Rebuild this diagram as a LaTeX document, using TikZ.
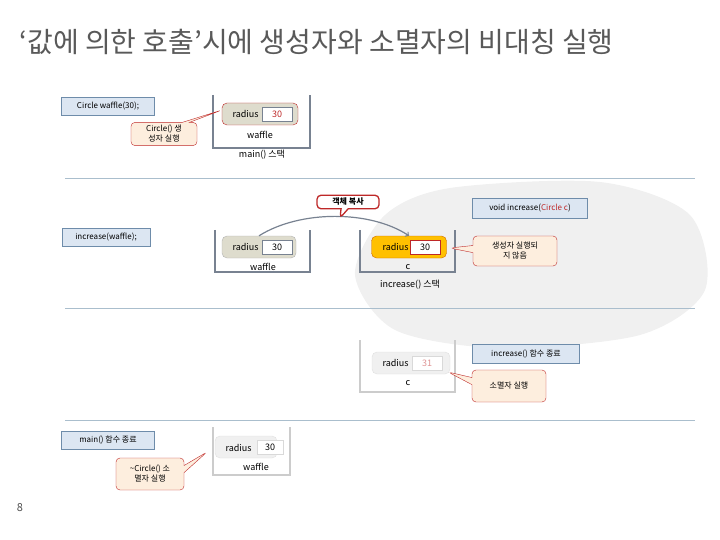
\documentclass[tikz,border=0pt]{standalone}
\usepackage{fontspec}
\setmainfont{Noto Sans CJK KR}
\usetikzlibrary{shapes.callouts,positioning}
\definecolor{codefill}{RGB}{220,230,242}
\definecolor{codeline}{RGB}{110,140,170}
\definecolor{objfill}{RGB}{222,220,205}
\definecolor{noteline}{RGB}{190,40,40}
\definecolor{notefill}{RGB}{253,238,222}
\definecolor{stackline}{RGB}{120,130,145}
\definecolor{sepline}{RGB}{170,190,205}
\definecolor{amber}{RGB}{255,192,0}
\tikzset{
  code/.style={draw=codeline,fill=codefill,minimum height=18pt,inner xsep=5pt,font=\fontsize{8}{10}\selectfont},
  obj/.style={draw=noteline,fill=objfill,rounded corners=5pt,minimum width=76pt,minimum height=22pt},
  val/.style={draw=stackline,fill=white,minimum width=30pt,minimum height=14pt,inner sep=1pt,font=\fontsize{9}{10}\selectfont},
  note/.style={rectangle callout,draw=noteline,fill=notefill,rounded corners=4pt,align=center,font=\fontsize{8}{10}\selectfont,inner sep=3pt},
  lbl/.style={font=\fontsize{9}{10}\selectfont},
}
\begin{document}
\begin{tikzpicture}[x=1pt,y=-1pt]
  \useasboundingbox (0,0) rectangle (720,540);
  % background blob
  \fill[black!6] plot[smooth cycle] coordinates {(450,188) (600,182) (690,215) (705,290) (640,335) (500,348) (395,330) (355,275) (385,215)};
  \node[anchor=west,text=black!65,font=\fontsize{28}{30}\selectfont] (title) at (16,42) {‘값에 의한 호출’시에 생성자와 소멸자의 비대칭 실행};
  % separators
  \foreach \y in {178,308,420}
    \draw[sepline] (65,\y) -- (695,\y);

  % main() stack
  \node[code,minimum width=93pt] (cw) at (108,106) {Circle waffle(30);};
  \draw[stackline,line width=1.2pt] (213,95) |- (310,148) -- (310,95);
  \node[obj] (o1) at (260,114) {};
  \node[lbl,anchor=west] at (229,114) {radius};
  \node[val,text=noteline] (v1) at (277,114) {30};
  \node[lbl] (w1) at (260,135) {waffle};
  \node[lbl] (s1) at (262,155) {main() 스택};
  \node[note,minimum width=66pt,callout absolute pointer={(222,110)}] (n1) at (164,134) {Circle() 생\\성자 실행};

  % increase() call
  \node[code,minimum width=88pt] (iw) at (106,237) {increase(waffle);};
  \draw[stackline,line width=1.2pt] (215,230) |- (310,272) -- (310,230);
  \node[obj,draw=black!30,minimum width=74pt] (o2) at (259,247) {};
  \node[lbl,anchor=west] at (229,247) {radius};
  \node[val] (v2) at (277,247) {30};
  \node[lbl] (w2) at (263,267) {waffle};
  \draw[stackline,line width=1.2pt] (360,230) |- (455,272) -- (455,230);
  \node[obj,draw=orange!80!black,fill=amber,minimum width=75pt] (o3) at (409,247) {};
  \node[lbl,anchor=west] at (379,247) {radius};
  \node[val,draw=noteline] (v3) at (425,247) {30};
  \node[lbl] (c3) at (408,267) {c};
  \node[lbl] (s3) at (410,285) {increase() 스택};
  \draw[stackline,line width=1.2pt,->] (o2.north) .. controls (300,210) and (370,210) .. (o3.north);
  \node[note,draw=noteline,line width=1.3pt,fill=white,minimum width=62pt,callout absolute pointer={(340,218)},font=\fontsize{8}{10}\selectfont\bfseries] (n2) at (348,202) {객체 복사};
  \node[code,minimum width=115pt,minimum height=20pt] (vi) at (530,208) {void increase(\textcolor{noteline}{Circle c})};
  \node[note,minimum width=84pt,minimum height=30pt,callout absolute pointer={(450,248)}] (n3) at (515,251) {생성자 실행되\\지 않음};

  % increase() end
  \draw[black!20,line width=1.2pt] (360,340) |- (455,392) -- (455,340);
  \node[obj,draw=black!12,fill=black!6,minimum width=78pt] (o4) at (411,363) {};
  \node[lbl,anchor=west] at (379,363) {radius};
  \node[val,draw=black!15,text=noteline!50] (v4) at (427,363) {31};
  \node[lbl] (c4) at (408,383) {c};
  \node[code,minimum width=107pt,minimum height=19pt] (ie) at (526,354) {increase() 함수 종료};
  \node[note,minimum width=74pt,minimum height=32pt,callout absolute pointer={(448,372)}] (n4) at (509,386) {소멸자 실행};

  % main() end
  \node[code,minimum width=93pt] (me) at (108,440) {main() 함수 종료};
  \draw[black!20,line width=1.2pt] (213,427) |- (290,475) -- (290,427);
  \node[obj,draw=black!12,fill=black!6,minimum width=62pt] (o5) at (246,447) {};
  \node[lbl,anchor=west] at (222,448) {radius};
  \node[val,draw=black!15,minimum width=26pt] (v5) at (270,447) {30};
  \node[lbl] (w5) at (256,467) {waffle};
  \node[note,minimum width=68pt,minimum height=32pt,callout absolute pointer={(207,452)}] (n5) at (150,474) {\textasciitilde Circle() 소\\멸자 실행};

  \node[font=\fontsize{11}{12}\selectfont,text=black!70] (pg) at (20,508) {8};
\end{tikzpicture}
\end{document}
